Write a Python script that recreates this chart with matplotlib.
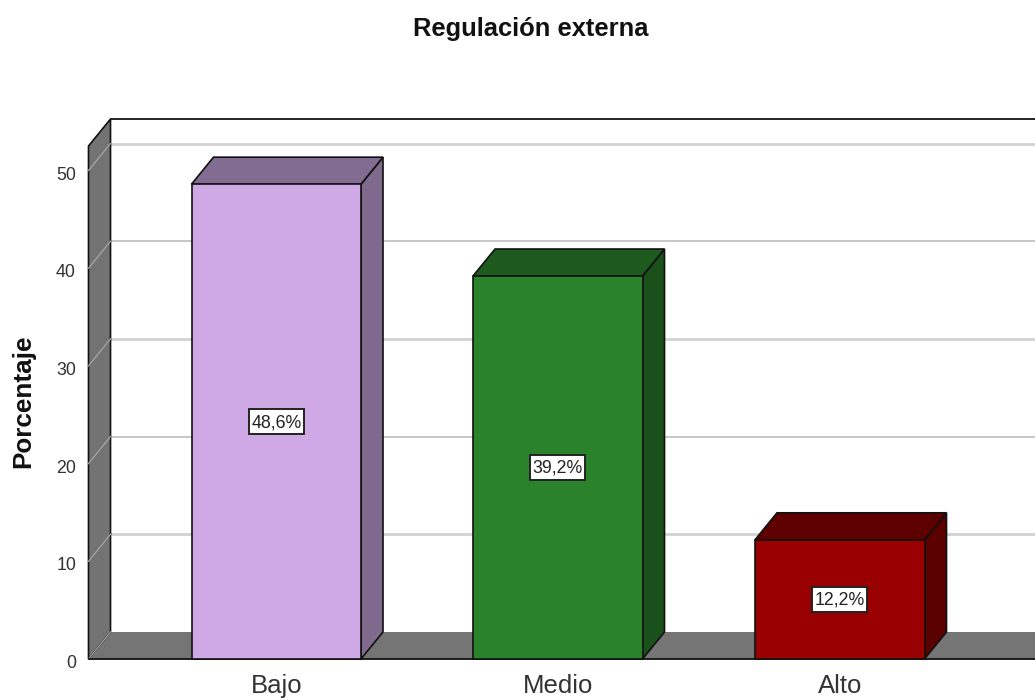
import matplotlib
matplotlib.use("Agg")
import matplotlib.pyplot as plt
from matplotlib.patches import Polygon
from matplotlib.transforms import ScaledTranslation

categories = ["Bajo", "Medio", "Alto"]
values = [48.6, 39.2, 12.2]
labels = ["48,6%", "39,2%", "12,2%"]
face = ["#CEA9E5", "#2A832A", "#990000"]
top = ["#826C91", "#1E5A1E", "#5F0000"]
side = ["#7F6A8E", "#1A511A", "#5A0000"]
ticks = [0, 10, 20, 30, 40, 50]

plt.rcParams['font.family'] = ['Liberation Sans', 'DejaVu Sans']
W, H = 1035, 698
fig = plt.figure(figsize=(W/100, H/100), dpi=100)
y0, y50 = 659.0, 170.5
ax_top = 146.0
xl = 88.5
ax = fig.add_axes([xl/W, 1-y0/H, (W-xl)/W, (y0-ax_top)/H])
ax.set_xlim(xl, 1035)
ax.set_ylim(0, (y0-ax_top)/(y0-y50)*50)
ax.patch.set_alpha(0)
for s in ax.spines.values():
    s.set_visible(False)
dx, dy = 22, 27
ymax = ax.get_ylim()[1]
uy = (y0-y50)/50
ddy = dy/uy

def poly(pts, fc, z, ec="#111111", lw=1.2):
    ax.add_patch(Polygon(pts, closed=True, fc=fc, ec=ec, lw=lw, zorder=z, clip_on=False))

# floor (soft upper edge), then grid on back wall, then left wall
poly([(xl, 0), (xl+dx, ddy), (1040, ddy), (1040, 0)], "#757575", 1, ec="none", lw=0)
for t, lw, col in zip(ticks[1:], [2, 1.2, 2, 1.2, 2], ["#D2D2D2", "#BDBDBD", "#D2D2D2", "#BDBDBD", "#D2D2D2"]):
    ax.plot([xl+dx, 1035], [t+ddy, t+ddy], color=col, lw=lw, zorder=1.1, clip_on=False)
poly([(xl, 0), (xl+dx, ddy), (xl+dx, ymax+ddy), (xl, ymax)], "#737373", 1.3)
for t in ticks:
    ax.plot([xl, xl+dx], [t, t+ddy], color="#A6A6A6", lw=0.9, zorder=1.4, clip_on=False)
ax.plot([xl+dx, 1035], [ymax+ddy, ymax+ddy], color="#111111", lw=1.3, zorder=1.5, clip_on=False)
ax.plot([xl, 1035], [0, 0], color="#111111", lw=1.3, zorder=1.5, clip_on=False)

lefts = [191.5, 473, 755]
width = 169.5
for l, v, s, f, tc, sc in zip(lefts, values, labels, face, top, side):
    r = l + width
    poly([(r, 0), (r+dx, ddy), (r+dx, v+ddy), (r, v)], sc, 3)
    poly([(l, v), (l+dx, v+ddy), (r+dx, v+ddy), (r, v)], tc, 3)
    poly([(l, 0), (r, 0), (r, v), (l, v)], f, 4)
    cx, cy = l + width/2, v/2
    bw, bh = 27.5, 12.5/uy
    poly([(cx-bw, cy-bh), (cx+bw, cy-bh), (cx+bw, cy+bh), (cx-bw, cy+bh)], "white", 5, ec="#222222", lw=1.4)
    ax.annotate(s, (cx, cy), xytext=(0, -0.7), textcoords="offset points", ha="center", va="center",
                fontsize=12.8, color="#222222", zorder=6)

ax.set_xticks([l+width/2 for l in lefts], categories)
ax.set_yticks(ticks, [str(t) for t in ticks])
ax.tick_params(axis="x", length=0, labelsize=18.5, pad=11, labelcolor="#333333")
ax.tick_params(axis="y", length=0, labelsize=12.8, pad=9, labelcolor="#333333")
shift = ScaledTranslation(0, -2.5/100, fig.dpi_scale_trans)
for lab in ax.get_yticklabels():
    lab.set_transform(lab.get_transform() + shift)
fig.text(531/W, 1-29/H, "Regulación externa", ha="center", va="center", fontsize=18.4, fontweight="bold", color="#111111")
fig.text(23/W, 1-401/H, "Porcentaje", ha="center", va="center", rotation=90, fontsize=18.8, fontweight="bold", color="#111111")
fig.savefig("out.png", dpi=100)
